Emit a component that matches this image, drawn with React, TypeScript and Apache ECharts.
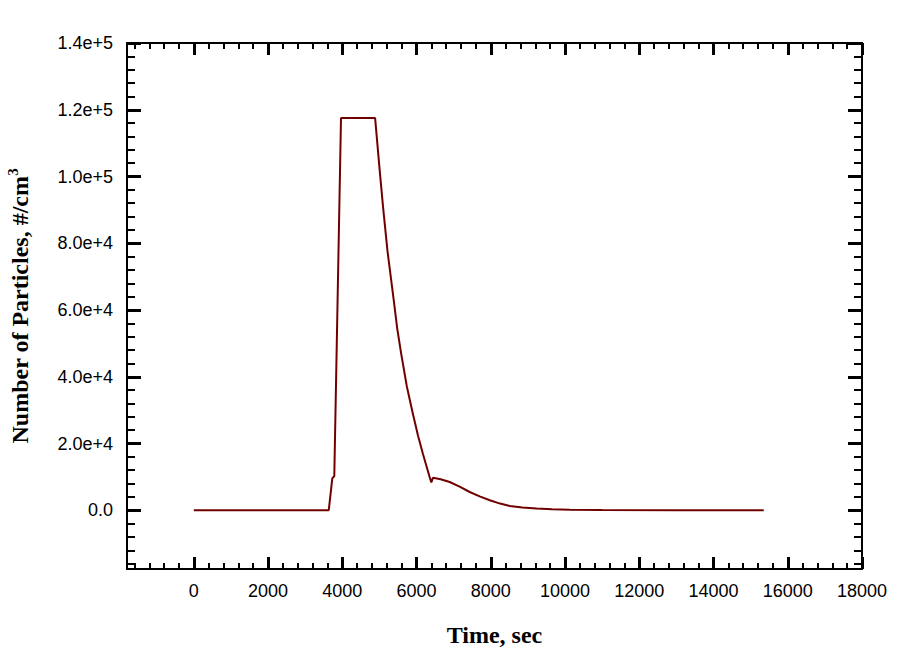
import React, { useEffect, useRef } from "react";
import * as echarts from "echarts";

const timeSec = [0, 3635, 3700, 3730, 3784, 3965, 4884, 5001, 5100, 5217, 5387, 5479, 5587, 5740, 5901, 6040, 6171, 6352, 6398, 6441, 6650, 6893, 7160, 7433, 7700, 7974, 8250, 8515, 8850, 9236, 9650, 10136, 11000, 13000, 15353];
const particles = [0, 0, 6500, 9570, 10170, 117500, 117500, 102600, 90600, 77700, 62800, 54500, 46850, 37000, 28900, 22300, 16950, 9960, 8370, 9720, 9300, 8460, 7100, 5470, 4150, 2990, 2000, 1290, 800, 510, 300, 150, 60, 10, 0];

const xMajor = [0, 2000, 4000, 6000, 8000, 10000, 12000, 14000, 16000, 18000];
const yMajor = [0, 20000, 40000, 60000, 80000, 100000, 120000, 140000];

const X_MIN = -1800, X_MAX = 18000, Y_MIN = -17600, Y_MAX = 140000;

function minorList(from: number, to: number, step: number, majorStep: number) {
  const out: number[] = [];
  for (let v = from; v <= to; v += step) {
    if (v % majorStep !== 0) out.push(v);
  }
  return out;
}

export default function App() {
  const ref = useRef<HTMLDivElement>(null);
  useEffect(() => {
    if (!ref.current) return;
    const chart = echarts.init(ref.current, undefined, { renderer: "svg" });
    const xMinor = minorList(-1600, 17600, 400, 2000);
    const yMinor = minorList(-16000, 136000, 4000, 20000);
    const line = { show: true, onZero: false, lineStyle: { color: "#000", width: 2 } };
    const noLine = { show: false, onZero: false };
    const labelFont = { fontFamily: "Liberation Sans, Arial, sans-serif", fontSize: 18, color: "#000" };
    const nameFont = { fontFamily: "Liberation Serif, Times New Roman, serif", fontWeight: "bold" as const, fontSize: 24, color: "#000" };
    const xBase = { type: "value" as const, min: X_MIN, max: X_MAX, splitLine: { show: false } };
    const yBase = { type: "value" as const, min: Y_MIN, max: Y_MAX, splitLine: { show: false } };
    chart.setOption({
      animation: false,
      backgroundColor: "#fff",
      grid: { left: 127, right: 42, top: 43, bottom: 86, containLabel: false, outerBoundsMode: "none" },
      xAxis: [
        {
          ...xBase, position: "bottom", axisLine: line,
          axisTick: { inside: true, length: 12, customValues: xMajor, lineStyle: { color: "#000", width: 3 } },
          axisLabel: { ...labelFont, margin: 13, customValues: xMajor, formatter: (v: number) => String(v) },
          name: "Time, sec", nameLocation: "middle", nameGap: 54, nameTextStyle: nameFont,
        },
        {
          ...xBase, position: "bottom", axisLine: noLine,
          axisTick: { inside: true, length: 6, customValues: xMinor, lineStyle: { color: "#000", width: 2 } },
          axisLabel: { show: false },
        },
        {
          ...xBase, position: "top", axisLine: line,
          axisTick: { inside: true, length: 12, customValues: xMajor, lineStyle: { color: "#000", width: 3 } },
          axisLabel: { show: false },
        },
        {
          ...xBase, position: "top", axisLine: noLine,
          axisTick: { inside: true, length: 6, customValues: xMinor, lineStyle: { color: "#000", width: 2 } },
          axisLabel: { show: false },
        },
      ],
      yAxis: [
        {
          ...yBase, position: "left", axisLine: line,
          axisTick: { inside: true, length: 14, customValues: yMajor, lineStyle: { color: "#000", width: 3 } },
          axisLabel: {
            ...labelFont, margin: 14, customValues: yMajor,
            formatter: (v: number) => (v === 0 ? "0.0" : v.toExponential(1)),
          },
          name: "Number of Particles, #/cm{sup|3}", nameLocation: "middle", nameGap: 92,
          nameTextStyle: { ...nameFont, rich: { sup: { ...nameFont, fontSize: 15, padding: [0, 0, 15, 0] } } },
        },
        {
          ...yBase, position: "left", axisLine: noLine,
          axisTick: { inside: true, length: 8, customValues: yMinor, lineStyle: { color: "#000", width: 2 } },
          axisLabel: { show: false },
        },
        {
          ...yBase, position: "right", axisLine: line,
          axisTick: { inside: true, length: 14, customValues: yMajor, lineStyle: { color: "#000", width: 3 } },
          axisLabel: { show: false },
        },
        {
          ...yBase, position: "right", axisLine: noLine,
          axisTick: { inside: true, length: 8, customValues: yMinor, lineStyle: { color: "#000", width: 2 } },
          axisLabel: { show: false },
        },
      ],
      series: [
        {
          type: "line",
          xAxisIndex: 0,
          yAxisIndex: 0,
          showSymbol: false,
          data: timeSec.map((t, i) => [t, particles[i]]),
          lineStyle: { color: "#700000", width: 2 },
        },
      ],
    });
    return () => chart.dispose();
  }, []);
  return <div ref={ref} style={{ position: "fixed", left: 0, top: 0, width: 904, height: 655 }} />;
}
